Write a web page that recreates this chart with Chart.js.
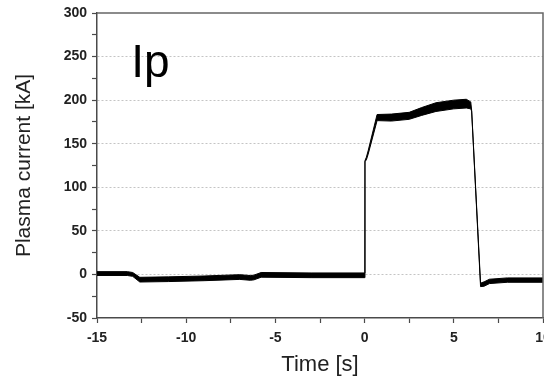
<!DOCTYPE html>
<html>
<head>
<meta charset="utf-8">
<script src="https://cdn.jsdelivr.net/npm/chart.js@4/dist/chart.umd.min.js"></script>
<style>
  html, body { margin: 0; padding: 0; background: #fff; }
  #wrap { width: 544px; height: 378px; }
</style>
</head>
<body>
<div id="wrap"><canvas id="ip-chart"></canvas></div>
<script>
// plasma current trace
const timeS     = [-15, -13.3, -13.0, -12.6, -11, -9, -7, -6.4, -6.2, -5.8, -3, 0, 0.02, 0.1, 0.2, 0.7, 1.5, 2.5, 3.2, 4, 5, 5.7, 5.95, 6.0, 6.5, 6.7, 7, 8, 10];
const currentKA = [1, 1, 0, -6, -5.5, -4.5, -3, -4, -3.5, -0.5, -1, -1, 130, 133, 140, 180, 180, 182, 187, 192, 195, 196, 194, 188, -12, -11, -8, -6.5, -6.5];
// half thickness of the noisy band
const spreadKA  = [2.2, 2.2, 2.2, 2.7, 2.7, 2.7, 2.7, 2.7, 2.7, 2.7, 2.7, 2.7, 0.6, 1.5, 2, 3.5, 4, 4, 4.5, 5, 5, 5, 4, 0.6, 2, 2.5, 2.5, 2.5, 2.5];

const yTicks = [-50, 0, 50, 100, 150, 200, 250, 300];
const xTicks = [-15, -10, -5, 0, 5, 10];

const upper = timeS.map((t, i) => ({ x: t, y: currentKA[i] + spreadKA[i] }));
const lower = timeS.map((t, i) => ({ x: t, y: currentKA[i] - spreadKA[i] }));

const axisColor = '#4a4a4a';
const tickFont = { family: 'Liberation Sans, Arial, sans-serif', size: 14, weight: 'bold' };

// box on top/right plus the "Ip" label
const framePlugin = {
  id: 'frame',
  afterDraw(chart) {
    const { ctx, chartArea: a, scales } = chart;
    ctx.save();
    ctx.strokeStyle = '#666';
    ctx.lineWidth = 1.5;
    ctx.beginPath();
    ctx.moveTo(a.left, a.top);
    ctx.lineTo(a.right, a.top);
    ctx.lineTo(a.right, a.bottom);
    ctx.stroke();
    ctx.fillStyle = '#000';
    ctx.font = '46px Liberation Sans, Arial, sans-serif';
    ctx.textAlign = 'center';
    ctx.textBaseline = 'alphabetic';
    ctx.fillText('Ip', scales.x.getPixelForValue(-12), scales.y.getPixelForValue(226));
    ctx.restore();
  }
};

new Chart(document.getElementById('ip-chart'), {
  type: 'line',
  data: {
    datasets: [
      { data: upper, borderColor: '#000', borderWidth: 1, pointRadius: 0, fill: false, tension: 0 },
      { data: lower, borderColor: '#000', borderWidth: 1, pointRadius: 0, fill: '-1', backgroundColor: '#000', tension: 0 }
    ]
  },
  options: {
    responsive: true,
    maintainAspectRatio: false,
    animation: false,
    layout: { padding: { top: 13, right: 1, left: 0, bottom: 0 }, autoPadding: false },
    plugins: { legend: { display: false }, tooltip: { enabled: false } },
    scales: {
      x: {
        type: 'linear',
        min: xTicks[0],
        max: xTicks[xTicks.length - 1],
        afterFit: s => { s.height = 60; s.paddingLeft = 0; s.paddingRight = 0; },
        ticks: {
          stepSize: 2.5,
          autoSkip: false,
          maxRotation: 0,
          padding: 7,
          color: '#222',
          font: tickFont,
          callback: v => xTicks.includes(v) ? String(v) : ''
        },
        grid: { drawOnChartArea: false, tickLength: 5, tickColor: axisColor, tickWidth: 1.2 },
        border: { color: axisColor, width: 1.5 },
        title: {
          display: true,
          text: 'Time [s]',
          color: '#222',
          font: { family: 'Liberation Sans, Arial, sans-serif', size: 22 },
          padding: { top: 0, bottom: 0 }
        }
      },
      y: {
        min: yTicks[0],
        max: yTicks[yTicks.length - 1],
        afterFit: s => { s.width = 97; s.paddingTop = 0; s.paddingBottom = 0; },
        ticks: {
          stepSize: 25,
          autoSkip: false,
          padding: 5,
          color: '#222',
          font: tickFont,
          callback: v => yTicks.includes(v) ? String(v) : ''
        },
        grid: {
          tickLength: 5,
          tickColor: axisColor,
          tickWidth: 1.2,
          lineWidth: 1,
          color: c => (c.tick && c.tick.value % 50 === 0 && c.tick.value >= 0 && c.tick.value < 300) ? '#c4c4c4' : 'rgba(0,0,0,0)'
        },
        border: { color: axisColor, width: 1.5, dash: [2, 2] },
        title: {
          display: true,
          text: 'Plasma current [kA]',
          color: '#222',
          font: { family: 'Liberation Sans, Arial, sans-serif', size: 21 },
          padding: { top: 12, bottom: 0 }
        }
      }
    }
  },
  plugins: [framePlugin]
});
</script>
</body>
</html>
